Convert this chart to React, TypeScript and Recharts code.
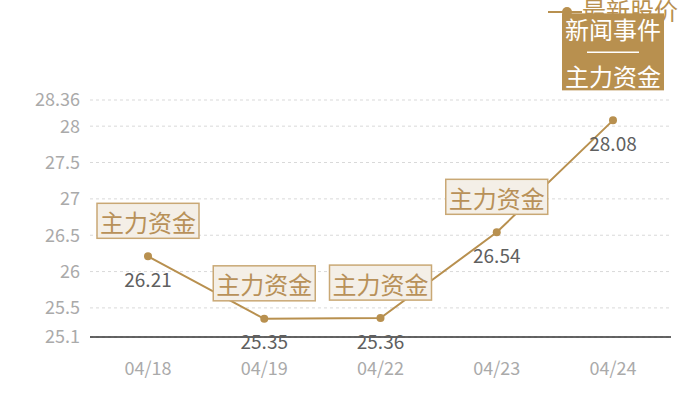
import React from 'react';
import { LineChart, Line, XAxis, YAxis, CartesianGrid, LabelList, Legend, ReferenceLine } from 'recharts';

const dates = ['04/18', '04/19', '04/22', '04/23', '04/24'];
const prices = [26.21, 25.35, 25.36, 26.54, 28.08];
const eventTags = [['主力资金'], ['主力资金'], ['主力资金'], ['主力资金'], ['新闻事件', '主力资金']];
const yTicks = [25.1, 25.5, 26, 26.5, 27, 27.5, 28, 28.36];

const data = dates.map((d, i) => ({ date: d, price: prices[i], tags: eventTags[i] }));

const GOLD = '#b8904f';
const FONT = '"Noto Sans CJK SC", "Noto Sans", sans-serif';

const ValueLabel = (props: any) => {
  const { x, y, value } = props;
  return (
    <text x={x} y={y + 22} textAnchor="middle" dominantBaseline="central" fill="#5f5f5f" fontSize={19} fontFamily={FONT}>
      {value}
    </text>
  );
};

const TagLabel = (props: any) => {
  const { x, y, index } = props;
  const tags = eventTags[index];
  if (tags.length > 1) {
    return (
      <g>
        <rect x={x - 51} y={y - 107} width={102} height={77} fill={GOLD} />
        <text x={x} y={y - 92} textAnchor="middle" dominantBaseline="central" fill="#fff" fontSize={24} fontFamily={FONT}>
          {tags[0]}
        </text>
        <line x1={x - 26} x2={x + 26} y1={y - 68} y2={y - 68} stroke="#fff" strokeWidth={1.5} />
        <text x={x} y={y - 45} textAnchor="middle" dominantBaseline="central" fill="#fff" fontSize={24} fontFamily={FONT}>
          {tags[1]}
        </text>
      </g>
    );
  }
  return (
    <g>
      <rect x={x - 51} y={y - 53} width={102} height={35} fill="#f4efe7" stroke="#c9a875" strokeWidth={1.5} />
      <text x={x} y={y - 35} textAnchor="middle" dominantBaseline="central" fill="#b89159" fontSize={24} fontFamily={FONT}>
        {tags[0]}
      </text>
    </g>
  );
};

const LegendContent = () => (
  <div style={{ height: 30, display: 'flex', alignItems: 'center', justifyContent: 'flex-start', fontFamily: FONT }}>
    <svg width={34} height={30} style={{ flex: 'none' }}>
      <line x1={0} x2={34} y1={18} y2={18} stroke={GOLD} strokeWidth={2} />
      <circle cx={19} cy={18} r={5} fill={GOLD} />
    </svg>
    <span style={{ color: GOLD, fontSize: 24, whiteSpace: 'nowrap' }}>最新股价</span>
  </div>
);

export default function App() {
  return (
    <div style={{ position: 'absolute', left: 0, top: 0 }}>
      <LineChart width={700} height={400} data={data} margin={{ top: 70, right: 29, bottom: 23, left: 0 }}>
        <CartesianGrid vertical={false} stroke="#d9d9d9" strokeDasharray="3 3" />
        <XAxis
          dataKey="date"
          padding={{ left: 58, right: 58 }}
          height={40}
          axisLine={{ stroke: '#333' }}
          tickLine={false}
          tickSize={0}
          tickMargin={25}
          tick={{ fill: '#aaa', fontSize: 18, fontFamily: FONT }}
        />
        <YAxis
          width={90}
          domain={[25.1, 28.36]}
          ticks={yTicks}
          axisLine={false}
          tickLine={false}
          tickSize={0}
          tickMargin={10}
          tick={{ fill: '#aaa', fontSize: 18, fontFamily: FONT }}
        />
        <ReferenceLine y={yTicks[0]} stroke="#333" strokeWidth={1} />
        <Legend
          verticalAlign="top"
          align="left"
          content={<LegendContent />}
          wrapperStyle={{ top: -6, left: 548, width: 152, zIndex: -1 }}
        />
        <Line
          type="linear"
          dataKey="price"
          name="最新股价"
          stroke={GOLD}
          strokeWidth={2}
          dot={{ r: 4, fill: GOLD, stroke: GOLD, strokeWidth: 0 }}
          activeDot={false}
          isAnimationActive={false}
        >
          <LabelList dataKey="price" content={<ValueLabel />} />
          <LabelList dataKey="price" content={<TagLabel />} />
        </Line>
      </LineChart>
    </div>
  );
}
